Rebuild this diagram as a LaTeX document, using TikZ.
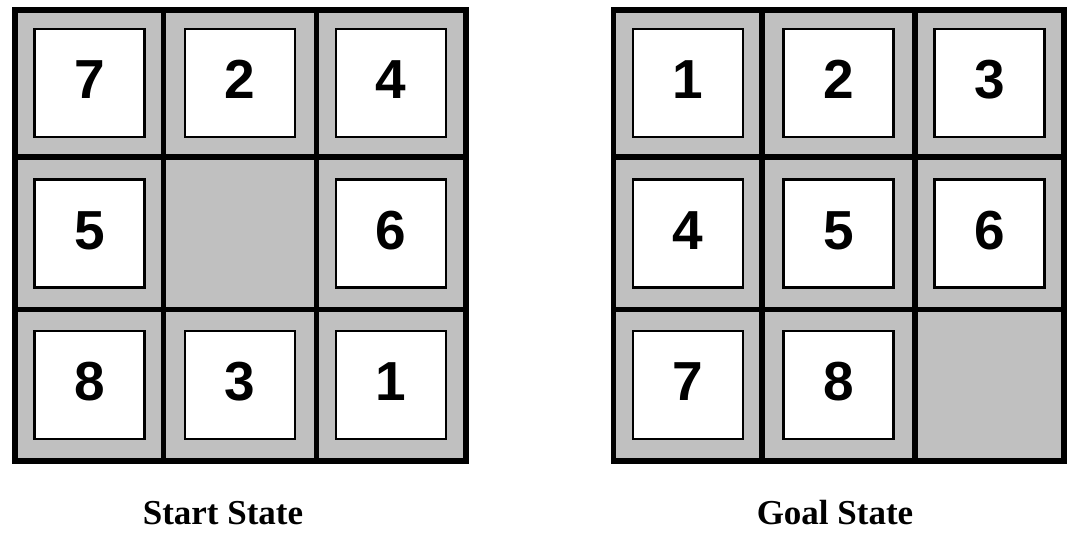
\documentclass[tikz,border=0pt]{standalone}
\usepackage{fontspec}
\setmainfont{Liberation Serif}
\newfontfamily\digitfont{Liberation Sans}
\definecolor{tilegray}{HTML}{C0C0C0}
\begin{document}
\begin{tikzpicture}[x=1pt,y=-1pt,
  board/.style={fill=tilegray, draw=black, line width=5.3pt},
  gridline/.style={draw=black, line width=5.3pt},
  tile/.style={draw=black, fill=white, line width=2.7pt, minimum width=110pt, minimum height=108pt, inner sep=0pt,
    font=\digitfont\bfseries\fontsize{55}{60}\selectfont, text height=39.4pt, text depth=8pt},
  caption/.style={font=\bfseries\fontsize{35}{40}\selectfont, inner sep=0pt, anchor=base}]
\useasboundingbox (0,0) rectangle (1074,538);
% Start state board
\draw[board] (15,10) rectangle (466,461);
\draw[gridline] (163.5,10) -- (163.5,461);
\draw[gridline] (316.5,10) -- (316.5,461);
\draw[gridline] (15,157) -- (466,157);
\draw[gridline] (15,309.5) -- (466,309.5);
% Goal state board
\draw[board] (613.5,10) rectangle (1064,461);
\draw[gridline] (762,10) -- (762,461);
\draw[gridline] (915,10) -- (915,461);
\draw[gridline] (613.5,157) -- (1064,157);
\draw[gridline] (613.5,309.5) -- (1064,309.5);
% Start tiles
\node[tile] (s11) at (89.5,83) {7};
\node[tile] (s12) at (240,83) {2};
\node[tile] (s13) at (391,83) {4};
\node[tile] (s21) at (89.5,233.5) {5};
\node[tile] (s23) at (391,233.5) {6};
\node[tile] (s31) at (89.5,385) {8};
\node[tile] (s32) at (240,385) {3};
\node[tile] (s33) at (391,385) {1};
% Goal tiles
\node[tile] (g11) at (688,83) {1};
\node[tile] (g12) at (838.5,83) {2};
\node[tile] (g13) at (989.5,83) {3};
\node[tile] (g21) at (688,233.5) {4};
\node[tile] (g22) at (838.5,233.5) {5};
\node[tile] (g23) at (989.5,233.5) {6};
\node[tile] (g31) at (688,385) {7};
\node[tile] (g32) at (838.5,385) {8};
% Captions
\node[caption] (startlbl) at (223,524) {Start State};
\node[caption] (goallbl) at (835,524) {Goal State};
\end{tikzpicture}
\end{document}
